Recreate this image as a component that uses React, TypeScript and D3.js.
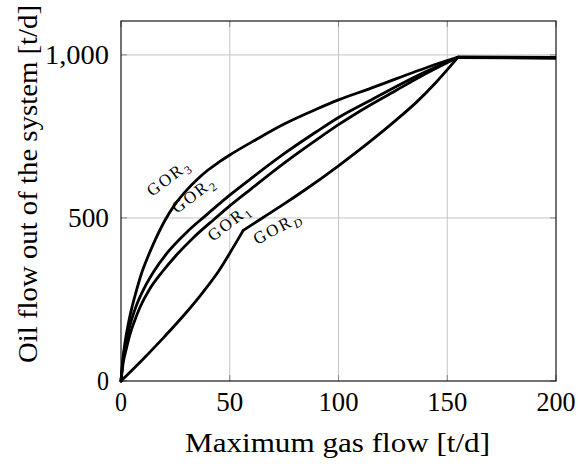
import React from "react";
import * as d3 from "d3";

// Maximum gas flow [t/d] vs oil flow out of the system [t/d]
const gor3X = [0, 1, 2, 3.5, 5, 7, 9.2, 12, 15, 20, 25, 30, 35, 40, 45, 50, 62, 75, 90, 100, 115, 127, 140, 155];
const gor3Y = [0, 75, 125, 180, 225, 275, 325, 375, 422, 490, 543, 584, 618, 647, 671, 693, 740, 788, 834, 862, 898, 928, 960, 993];

const gor2X = [0, 1, 2.5, 4.3, 7, 10.7, 15, 21.5, 30, 38.5, 50, 60, 75, 90, 100, 115, 127, 140, 155];
const gor2Y = [0, 70, 125, 175, 230, 285, 335, 395, 455, 505, 570, 622, 697, 765, 808, 862, 905, 948, 993];

const gor1X = [0, 1, 2.5, 4, 6.1, 9, 13, 19, 25.3, 33, 43, 50, 60, 75, 90, 100, 115, 127, 140, 155];
const gor1Y = [0, 55, 100, 140, 182, 230, 280, 335, 385, 438, 497, 537, 590, 668, 740, 786, 848, 893, 942, 993];

// GOR_D has a kink at ~56 t/d
const gorDLowX = [0, 10, 20, 30, 38, 45, 50, 56.2];
const gorDLowY = [0, 66, 136, 210, 275, 338, 392, 462];
const gorDHighX = [56.2, 65, 75, 85, 100, 115, 127, 136, 145, 155];
const gorDHighY = [462, 500, 543, 588, 660, 737, 803, 856, 917, 993];

// plateau after all curves meet
const plateauX = [155, 200];
const plateauY = [993, 991];

const xTicks = [0, 50, 100, 150, 200];
const xTickWidths = [12, 27, 40, 40, 39];
const yTicks = [0, 500, 1000];
const yTickLabels = ["0", "500", "1,000"];
const yTickWidths = [12, 41, 64];

const seriesNames = ["3", "2", "1", "D"];

const W = 580;
const H = 464;
const L = 121, R = 556, T = 21, B = 381;

const FONT = "Liberation Serif";

export default function App() {
  const x = d3.scaleLinear().domain([0, 200]).range([L, R]);
  const y = d3.scaleLinear().domain([0, 1104]).range([B, T]);
  const smooth = d3
    .line<[number, number]>()
    .x((d) => x(d[0]))
    .y((d) => y(d[1]))
    .curve(d3.curveMonotoneX);
  const straight = d3
    .line<[number, number]>()
    .x((d) => x(d[0]))
    .y((d) => y(d[1]));

  const zip = (xs: number[], ys: number[]) => xs.map((v, i) => [v, ys[i]] as [number, number]);

  const curves = [
    zip(gor3X, gor3Y),
    zip(gor2X, gor2Y),
    zip(gor1X, gor1Y),
    zip(gorDLowX, gorDLowY),
    zip(gorDHighX, gorDHighY),
  ];
  const plateau = zip(plateauX, plateauY);

  const labelPos = [
    { x: 152, y: 197, a: -37 },
    { x: 177, y: 214, a: -37 },
    { x: 213, y: 242, a: -38 },
    { x: 257, y: 245, a: -28 },
  ];

  return (
    <svg width={W} height={H} fontFamily={FONT} style={{ position: "absolute", left: 0, top: 0 }}>
      <rect x={0} y={0} width={W} height={H} fill="#fff" />
      {/* grid */}
      {xTicks.slice(1, -1).map((t) => (
        <line key={"gx" + t} x1={x(t)} x2={x(t)} y1={T} y2={B} stroke="#c4c4c4" strokeWidth={1} />
      ))}
      {yTicks.slice(1).map((t) => (
        <line key={"gy" + t} x1={L} x2={R} y1={y(t)} y2={y(t)} stroke="#c4c4c4" strokeWidth={1} />
      ))}
      {/* ticks */}
      {xTicks.map((t) => (
        <g key={"tx" + t}>
          <line x1={x(t)} x2={x(t)} y1={B} y2={B - 6} stroke="#888" strokeWidth={1} />
          <line x1={x(t)} x2={x(t)} y1={T} y2={T + 6} stroke="#888" strokeWidth={1} />
        </g>
      ))}
      {yTicks.map((t) => (
        <g key={"ty" + t}>
          <line x1={L} x2={L + 6} y1={y(t)} y2={y(t)} stroke="#888" strokeWidth={1} />
          <line x1={R} x2={R - 6} y1={y(t)} y2={y(t)} stroke="#888" strokeWidth={1} />
        </g>
      ))}
      {/* curves */}
      {curves.map((s, i) => (
        <path key={"s" + i} d={smooth(s) || ""} fill="none" stroke="#000" strokeWidth={2.8}
          strokeLinejoin="round" strokeLinecap="round" />
      ))}
      <path d={straight(plateau) || ""} fill="none" stroke="#000" strokeWidth={3.6} />
      {/* axis box */}
      <rect x={L} y={T} width={R - L} height={B - T} fill="none" stroke="#000" strokeWidth={1.1} />
      {/* x tick labels */}
      {xTicks.map((t, i) => (
        <text key={"xl" + t} x={x(t)} y={410.5} textAnchor="middle" fontSize={27} fontFamily={FONT}
          textLength={xTickWidths[i]} lengthAdjust="spacingAndGlyphs">
          {t}
        </text>
      ))}
      {/* y tick labels */}
      {yTicks.map((t, i) => (
        <text key={"yl" + t} x={109} y={y(t) + 9} textAnchor="end" fontSize={27} fontFamily={FONT}
          textLength={yTickWidths[i]} lengthAdjust="spacingAndGlyphs">
          {yTickLabels[i]}
        </text>
      ))}
      {/* axis titles */}
      <text x={337.5} y={452} textAnchor="middle" fontSize={27} textLength={305}
        lengthAdjust="spacingAndGlyphs" fontFamily={FONT}>
        Maximum gas flow [t/d]
      </text>
      <text transform="translate(37,184) rotate(-90)" textAnchor="middle" fontSize={27}
        textLength={358} lengthAdjust="spacingAndGlyphs" fontFamily={FONT}>
        Oil flow out of the system [t/d]
      </text>
      {/* curve labels */}
      {labelPos.map((p, i) => (
        <text key={"lab" + i} transform={`translate(${p.x},${p.y}) rotate(${p.a})`} fontSize={17}
          letterSpacing={2} fontFamily={FONT}>
          GOR
          <tspan fontSize={12} dy={4} fontStyle={seriesNames[i] === "D" ? "italic" : "normal"} letterSpacing={0}>
            {seriesNames[i]}
          </tspan>
        </text>
      ))}
    </svg>
  );
}
